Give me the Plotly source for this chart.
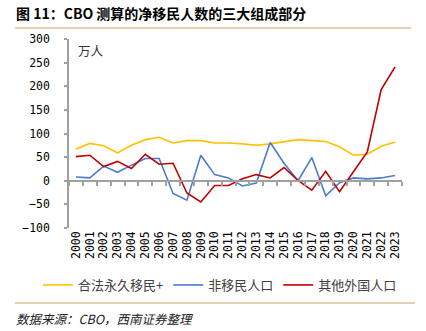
import plotly.graph_objects as go

years = [str(y) for y in range(2000, 2024)]
legal_perm = [67, 79, 74, 59, 75, 87, 92, 80, 85, 85, 80, 80, 78, 75, 78, 83, 87, 85, 83, 72, 54, 56, 73, 82]
non_immig = [8, 6, 31, 18, 33, 47, 47, -27, -41, 54, 13, 6, -11, -5, 81, 37, 0, 49, -32, -4, 6, 4, 6, 11]
other_foreign = [51, 54, 30, 41, 26, 56, 35, 37, -26, -45, -10, -10, 4, 13, 6, 28, 1, -20, 20, -23, 19, 61, 193, 241]

series_names = ["合法永久移民+", "非移民人口", "其他外国人口"]
colors = ["#FFC000", "#4A7BD0", "#C00000"]

title = "<b>图 11：CBO 测算的净移民人数的三大组成部分</b>"
source = "<i>数据来源：CBO，西南证券整理</i>"
unit = "万人"

CJK = "Noto Sans CJK SC"
MONO = "DejaVu Sans Mono"

fig = go.Figure()
for name, vals, c in zip(series_names, [legal_perm, non_immig, other_foreign], colors):
    fig.add_trace(go.Scatter(x=years, y=vals, name=name, mode="lines",
                             line=dict(color=c, width=1.6), xaxis="x", yaxis="y"))
# invisible helper trace for bottom label axis
fig.add_trace(go.Scatter(x=years, y=legal_perm, mode="lines", showlegend=False,
                         line=dict(width=0), opacity=0, hoverinfo="skip",
                         xaxis="x2", yaxis="y"))

W, H = 426, 331
L, R, T, B = 69, 24, 39, 103
ph = H - T - B
pw = W - L - R

def px(x):
    return (x - L) / pw

def py(y):
    return (H - B - y) / ph

fig.update_layout(
    width=W, height=H,
    margin=dict(l=L, r=R, t=T, b=B, autoexpand=False),
    paper_bgcolor="white", plot_bgcolor="white",
    showlegend=True,
    legend=dict(orientation="h", x=px(38), xanchor="left", y=py(285), yanchor="middle",
                font=dict(family=CJK, size=13, color="#404040"),
                itemwidth=30, tracegroupgap=0, bgcolor="rgba(0,0,0,0)"),
    xaxis=dict(type="category", range=[-0.5, 23.5], anchor="free", position=0.25,
               showline=True, linecolor="#A0A0A0", linewidth=1.5,
               ticks="outside", ticklen=4, tickcolor="#A0A0A0", tickwidth=1.5,
               tickson="boundaries", tickmode="array", tickvals=years,
               showticklabels=False, showgrid=False, zeroline=False),
    xaxis2=dict(type="category", range=[-0.5, 23.5], overlaying="x", anchor="y", side="bottom",
                matches="x", showline=False, ticks="", showgrid=False, zeroline=False,
                tickmode="array", tickvals=years, ticktext=years,
                tickangle=-90, tickfont=dict(family=MONO, size=11.5, color="#000000")),
    yaxis=dict(range=[-100, 300], tickvals=[-100, -50, 0, 50, 100, 150, 200, 250, 300],
               showline=True, linecolor="#A0A0A0", linewidth=1.5,
               ticks="outside", ticklen=3, tickcolor="#A0A0A0", tickwidth=1.5,
               showgrid=False, zeroline=False, ticklabelstandoff=12,
               tickfont=dict(family=MONO, size=11.5, color="#000000")),
    shapes=[
        dict(type="line", xref="paper", yref="paper", x0=px(15), x1=px(411), y0=py(28), y1=py(28),
             line=dict(color="#C9A36E", width=1.2)),
        dict(type="line", xref="paper", yref="paper", x0=px(15), x1=px(415), y0=py(303), y1=py(303),
             line=dict(color="#C9A36E", width=1.2)),
    ],
    annotations=[
        dict(text=title, xref="paper", yref="paper", x=px(14), y=py(13), xanchor="left", yanchor="middle",
             showarrow=False, font=dict(family=CJK, size=14, color="#000000")),
        dict(text=source, xref="paper", yref="paper", x=px(14), y=py(318), xanchor="left", yanchor="middle",
             showarrow=False, font=dict(family=CJK, size=12.5, color="#222222")),
        dict(text=unit, xref="paper", yref="paper", x=px(76), y=py(50), xanchor="left", yanchor="middle",
             showarrow=False, font=dict(family=CJK, size=12.5, color="#333333")),
    ],
)

fig.write_html("out.html")
